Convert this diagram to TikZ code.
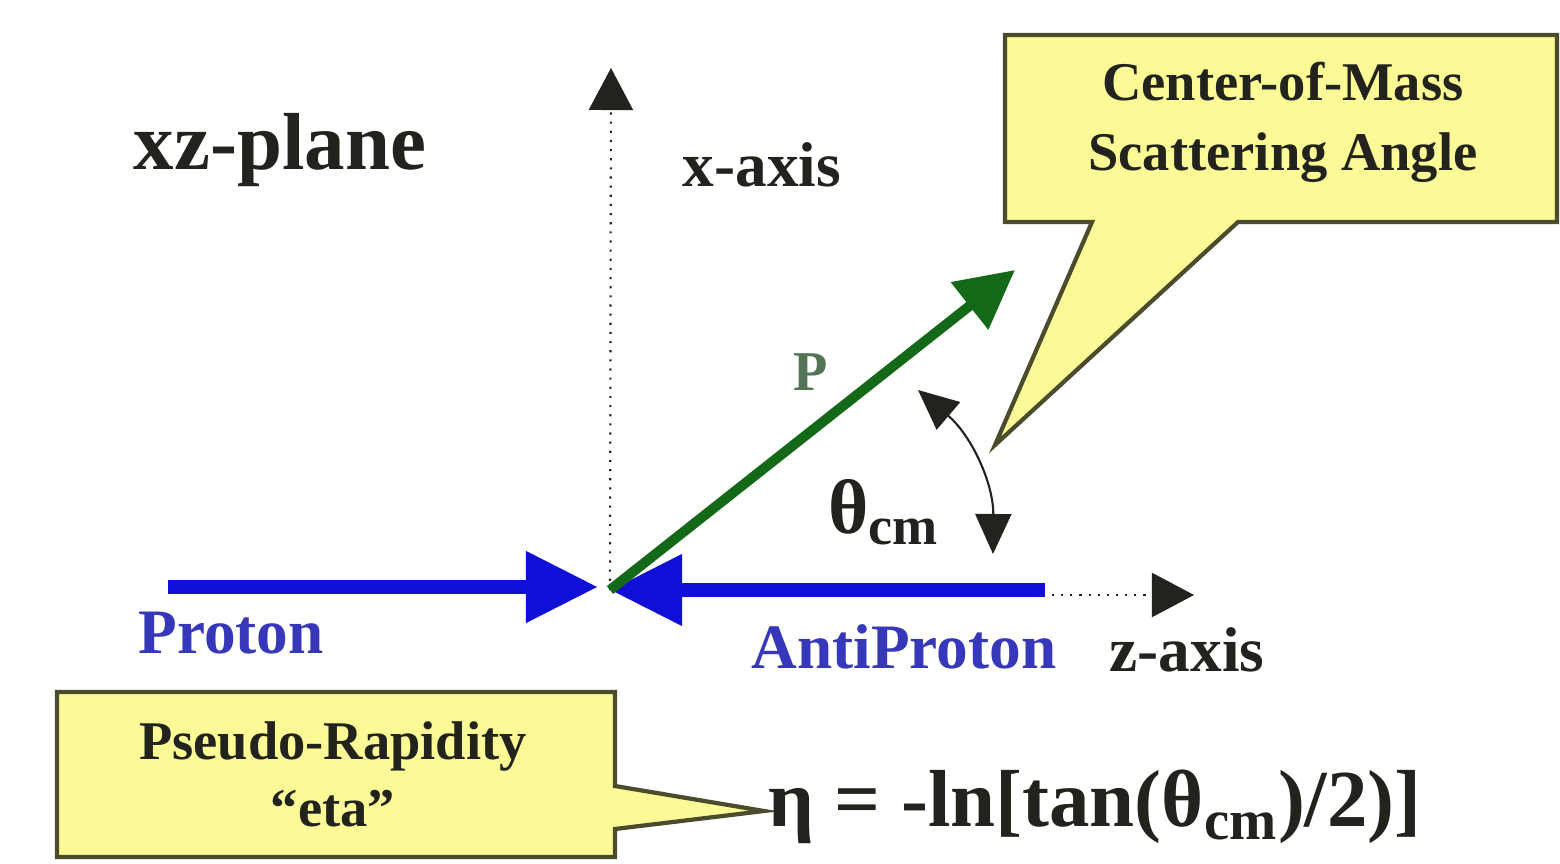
\documentclass[tikz,border=0pt]{standalone}
\usepackage{fontspec}
\setmainfont{Liberation Serif}
\usetikzlibrary{arrows.meta}
\definecolor{arrowblue}{RGB}{15,15,215}
\definecolor{textblue}{RGB}{55,55,185}
\definecolor{pgreen}{RGB}{20,105,25}
\definecolor{plabel}{RGB}{85,115,85}
\definecolor{callfill}{RGB}{252,250,150}
\definecolor{calldraw}{RGB}{75,75,45}
\definecolor{inkblack}{RGB}{35,35,30}
\tikzset{
  lbl/.style={font=\bfseries, text=inkblack, inner sep=0pt},
  bluearrow/.style={line width=0.14cm, draw=arrowblue, -{Triangle[length=0.72cm,width=0.68cm]}},
  greenarrow/.style={line width=0.10cm, draw=pgreen, -{Triangle[length=0.58cm,width=0.58cm]}},
  axisline/.style={dotted, line width=0.6pt, draw=inkblack, -{Triangle[length=0.42cm,width=0.44cm]}},
  anglearrow/.style={line width=0.6pt, draw=inkblack, {Triangle[length=0.4cm,width=0.36cm]}-{Triangle[length=0.4cm,width=0.36cm]}},
  callout/.style={fill=callfill, draw=calldraw, line width=1.2pt, line join=miter},
}
\begin{document}
\begin{tikzpicture}[x=0.01cm,y=-0.01cm]
\useasboundingbox[fill=white] (0,0) rectangle (1560,864);
% coordinates
\coordinate (O) at (610,590);
\coordinate (xtop) at (611,68);
\coordinate (zstart) at (1052,595);
\coordinate (ztip) at (1194,595);
\coordinate (pstart) at (168,587);
\coordinate (ptip) at (598,587);
\coordinate (apstart) at (1045,590);
\coordinate (gtip) at (1015,270);
\coordinate (aup) at (918,390);
\coordinate (alow) at (993,554);
% callouts
\draw[callout] (1005,35) -- (1557,35) -- (1557,222) -- (1238,222) -- (995,445) -- (1092,222) -- (1005,222) -- cycle;
\draw[callout] (57,692) -- (615,692) -- (615,786) -- (764,811) -- (615,829) -- (615,857) -- (57,857) -- cycle;
% axes
\draw[axisline] (O) -- (xtop);
\draw[axisline] (zstart) -- (ztip);
% beams
\draw[bluearrow] (pstart) -- (ptip);
\draw[bluearrow] (apstart) -- (O);
% scattered particle
\draw[greenarrow] (O) -- (gtip);
% angle
\draw[anglearrow] (aup) to[bend left=25] (alow);
% labels
\node[lbl, font=\fontsize{23}{27}\selectfont\bfseries] (xz) at (280,150) {xz-plane};
\node[lbl, font=\fontsize{18}{22}\selectfont\bfseries] (xaxis) at (762,165) {x-axis};
\node[lbl, font=\fontsize{18}{22}\selectfont\bfseries] (zaxis) at (1187,650) {z-axis};
\node[lbl, text=textblue, font=\fontsize{18}{22}\selectfont\bfseries] (proton) at (231,633) {Proton};
\node[lbl, text=textblue, font=\fontsize{18}{22}\selectfont\bfseries] (antiproton) at (904,647) {AntiProton};
\node[lbl, text=plabel, font=\fontsize{16}{20}\selectfont\bfseries] (plab) at (811,372) {P};
\node[lbl, font=\fontsize{22}{26}\selectfont\bfseries] (theta) at (884,512) {θ\textsubscript{cm}};
\node[lbl, align=center, font=\fontsize{15.5}{20}\selectfont\bfseries] (cmtext) at (1283,122) {Center-of-Mass\\Scattering Angle};
\node[lbl, align=center, font=\fontsize{15.5}{16}\selectfont\bfseries] (prtext) at (333,774) {Pseudo-Rapidity\\[3pt]“eta”};
\node[lbl, anchor=west, font=\fontsize{23}{27}\selectfont\bfseries] (formula) at (768,807) {η = -ln[tan(θ\textsubscript{cm})/2)]};
\end{tikzpicture}
\end{document}
